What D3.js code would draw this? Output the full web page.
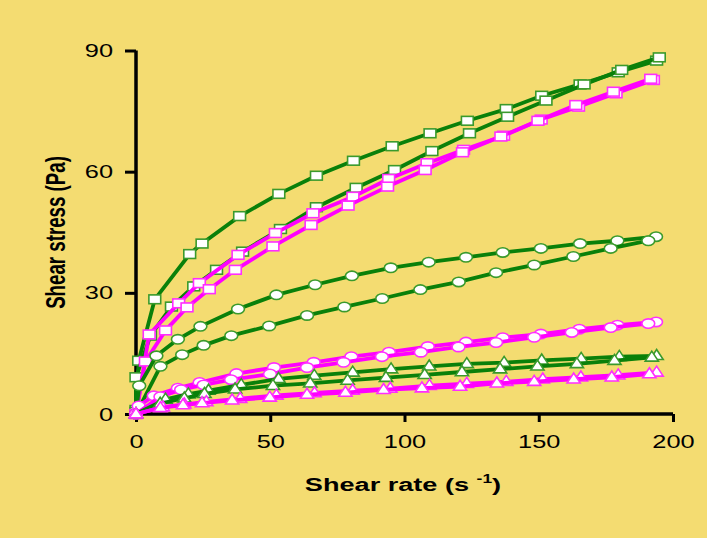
<!DOCTYPE html>
<html><head><meta charset="utf-8">
<script src="https://cdn.jsdelivr.net/npm/d3@7"></script>
<style>html,body{margin:0;padding:0;background:#F4DC71;}svg{display:block;}</style>
</head><body>
<svg id="chart" width="707" height="538"></svg>
<script>
// ---- data ----
const xTicks = [0, 50, 100, 150, 200];
const yTicks = [0, 30, 60, 90];
const xLabel = "Shear rate (s";
const yLabel = "Shear stress (Pa)";

const greenSquaresUp = [[0,1.0],[1.0,13.2],[7.0,28.4],[20.0,39.6],[24.6,42.2],[38.6,49.0],[53.2,54.5],[67.2,59.0],[81.0,62.7],[95.4,66.3],[109.5,69.5],[123.4,72.6],[137.9,75.5],[151.1,78.8],[165.4,81.6],[179.6,84.6],[193.9,87.5]];
const greenSquaresDown = [[0,0.5],[0,9.1],[5.4,19.4],[13.2,26.6],[21.5,31.6],[30.0,35.7],[39.7,40.2],[53.8,45.8],[67.2,51.2],[82.0,56.0],[96.3,60.4],[110.2,65.1],[124.2,69.5],[138.4,73.6],[152.7,77.6],[166.9,81.6],[180.9,85.2],[194.9,88.3]];
const pinkSquaresUp = [[0,0],[4.9,19.7],[15.9,27.4],[23.6,32.4],[38.0,39.4],[51.9,44.8],[65.9,49.7],[80.8,53.8],[94.1,58.2],[108.4,62.1],[122.0,65.4],[136.9,68.9],[150.9,72.9],[164.8,76.1],[178.8,79.4],[192.7,82.7]];
const pinkSquaresDown = [[0,0],[3.5,13.0],[11.0,20.7],[19.0,26.4],[27.3,30.9],[37.0,35.7],[51.0,41.5],[65.2,46.8],[79.0,51.6],[93.7,56.3],[107.7,60.4],[121.6,64.8],[135.9,68.7],[149.7,72.6],[163.8,76.5],[177.8,79.8],[191.7,83.0]];
const greenCirclesUp = [[0,0],[1.2,7.0],[7.6,14.4],[15.6,18.5],[24.0,21.7],[38.0,26.0],[52.3,29.5],[66.7,32.0],[80.4,34.2],[94.9,36.2],[109.0,37.6],[122.9,38.8],[136.6,40.0],[150.8,41.0],[165.4,42.2],[179.3,42.9],[193.7,43.9]];
const greenCirclesDown = [[0,0],[9.1,11.8],[17.2,14.7],[25.2,17.0],[35.5,19.4],[49.6,21.8],[63.7,24.4],[77.6,26.5],[91.7,28.6],[105.9,30.8],[120.2,32.7],[134.1,35.0],[148.3,36.9],[162.9,39.0],[176.8,41.0],[190.8,42.9]];
const pinkCirclesUp = [[0,0],[1.0,2.0],[6.6,4.5],[15.6,6.4],[23.7,7.8],[37.4,10.0],[51.4,11.5],[66.2,12.8],[80.2,14.2],[94.2,15.3],[108.7,16.7],[122.9,17.8],[136.6,18.9],[150.8,19.8],[165.1,21.0],[179.3,22.0],[193.7,22.8]];
const pinkCirclesDown = [[0,0],[9.1,4.3],[16.8,6.0],[25.2,7.2],[35.4,8.5],[49.9,9.9],[63.7,11.5],[77.3,12.8],[91.6,14.2],[106.1,15.3],[120.1,16.6],[134.1,17.7],[148.3,19.0],[162.3,20.2],[176.8,21.4],[190.8,22.4]];
const greenTrianglesUp = [[0,0],[11.0,3.6],[19.5,4.9],[27.0,5.8],[39.2,7.2],[53.1,8.7],[66.4,9.5],[80.7,10.3],[95.0,11.1],[109.2,11.8],[123.2,12.4],[137.1,12.7],[151.1,13.3],[165.8,13.7],[180.0,14.2],[193.9,14.4]];
const greenTrianglesDown = [[0,0],[9.0,2.6],[18.0,3.9],[25.5,5.0],[36.9,6.1],[51.0,7.0],[64.9,7.6],[78.8,8.3],[93.1,9.0],[107.5,9.7],[121.4,10.4],[135.6,11.1],[149.5,11.8],[164.2,12.4],[178.2,13.2],[192.1,14.0]];
const pinkTrianglesUp = [[0,0],[10.0,1.7],[18.0,2.4],[26.2,3.0],[38.8,3.8],[52.3,4.6],[66.5,5.2],[80.7,5.8],[94.7,6.3],[109.3,7.0],[123.2,7.5],[137.9,8.0],[151.5,8.6],[165.7,9.1],[179.6,9.6],[193.9,10.3]];
const pinkTrianglesDown = [[0,0],[9.1,1.5],[17.5,2.2],[24.6,2.7],[35.8,3.4],[49.8,4.1],[63.7,4.8],[78.0,5.3],[92.2,6.0],[106.5,6.4],[120.7,6.8],[134.4,7.6],[148.3,8.0],[163.0,8.6],[177.2,9.1],[191.2,9.9]];

// ---- styles ----
const GREEN = "#0A800A", GREEN_M = "#3A9A2C", PINK = "#FF00FF", PINK_M = "#FF2EFF";
const SX = 1.45;

const series = [
  {data: greenSquaresUp, line: GREEN, mk: GREEN_M, shape: "square"},
  {data: greenSquaresDown, line: GREEN, mk: GREEN_M, shape: "square"},
  {data: pinkSquaresUp, line: PINK, mk: PINK_M, shape: "square"},
  {data: pinkSquaresDown, line: PINK, mk: PINK_M, shape: "square"},
  {data: greenCirclesUp, line: GREEN, mk: GREEN_M, shape: "circle"},
  {data: greenCirclesDown, line: GREEN, mk: GREEN_M, shape: "circle"},
  {data: pinkCirclesUp, line: PINK, mk: PINK_M, shape: "circle"},
  {data: pinkCirclesDown, line: PINK, mk: PINK_M, shape: "circle"},
  {data: greenTrianglesUp, line: GREEN, mk: GREEN_M, shape: "triangle"},
  {data: greenTrianglesDown, line: GREEN, mk: GREEN_M, shape: "triangle"},
  {data: pinkTrianglesUp, line: PINK, mk: PINK_M, shape: "triangle"},
  {data: pinkTrianglesDown, line: PINK, mk: PINK_M, shape: "triangle"}
];

const svg = d3.select("#chart");
svg.append("rect").attr("width",707).attr("height",538).attr("fill","#F4DC71");

const x = d3.scaleLinear().domain([0,200]).range([136,673]);
const y = d3.scaleLinear().domain([0,90]).range([414,50.5]);

// axes
const yAxis = svg.append("g").attr("transform","translate(136,0)")
  .call(d3.axisLeft(y).tickValues(yTicks).tickSize(11).tickSizeOuter(0).tickPadding(0));
const xAxis = svg.append("g").attr("transform","translate(0,414)")
  .call(d3.axisBottom(x).tickValues(xTicks).tickSize(8).tickSizeOuter(0).tickPadding(0));
[yAxis, xAxis].forEach(g => {
  g.select(".domain").attr("stroke","#000").attr("stroke-width",3.5);
  g.selectAll(".tick line").attr("stroke","#000").attr("stroke-width",3);
  g.selectAll(".tick text").attr("font-family","Arial, 'Liberation Sans', sans-serif")
    .attr("font-size",17.5).attr("fill","#000");
});
yAxis.selectAll(".tick text").attr("x",0).attr("dy",null)
  .attr("text-anchor","end").attr("dominant-baseline","central")
  .attr("transform",`translate(-23,0) scale(${SX},1)`);
xAxis.selectAll(".tick text").attr("y",0).attr("dy",null)
  .attr("text-anchor","middle")
  .attr("transform",`translate(0,34) scale(${SX},1)`);
yAxis.select(".domain").attr("d","M0,50.5V415.7");
xAxis.select(".domain").attr("d","M134.3,0H673");

// series
const line = d3.line().x(d=>x(d[0])).y(d=>y(d[1]));
const tri = "M0,-6.3L6.6,3.7L-6.6,3.7Z";
series.forEach(s => {
  const g = svg.append("g");
  g.append("path").attr("d", line(s.data)).attr("fill","none")
    .attr("stroke", s.line).attr("stroke-width",3.8).attr("stroke-linejoin","round");
  const m = g.selectAll(".m").data(s.data).enter();
  if (s.shape === "square") {
    m.append("rect").attr("x",d=>x(d[0])-5.9).attr("y",d=>y(d[1])-4.4)
      .attr("width",11.8).attr("height",8.8)
      .attr("fill","#fff").attr("stroke",s.mk).attr("stroke-width",1.6);
  } else if (s.shape === "circle") {
    m.append("ellipse").attr("cx",d=>x(d[0])).attr("cy",d=>y(d[1]))
      .attr("rx",6.4).attr("ry",4.7)
      .attr("fill","#fff").attr("stroke",s.mk).attr("stroke-width",1.6);
  } else {
    m.append("path").attr("d",tri)
      .attr("transform",d=>`translate(${x(d[0])},${y(d[1])})`)
      .attr("fill","#fff").attr("stroke",s.mk).attr("stroke-width",1.6).attr("stroke-linejoin","miter");
  }
});

// titles
const xt = svg.append("text").attr("transform",`translate(403,490.5) scale(${SX},1)`)
  .attr("text-anchor","middle").attr("font-family","Arial, 'Liberation Sans', sans-serif")
  .attr("font-weight","bold").attr("font-size",18.7).attr("fill","#000");
xt.append("tspan").text(xLabel + " ");
xt.append("tspan").attr("font-size",12).attr("dy",-8).text("-1");
xt.append("tspan").attr("dy",8).text(")");

svg.append("text").attr("transform",`translate(65,232.5) scale(${SX},1) rotate(-90)`)
  .attr("text-anchor","middle").attr("font-family","Arial, 'Liberation Sans', sans-serif")
  .attr("font-weight","bold").attr("font-size",18.7).attr("fill","#000").text(yLabel);
</script>
</body></html>
